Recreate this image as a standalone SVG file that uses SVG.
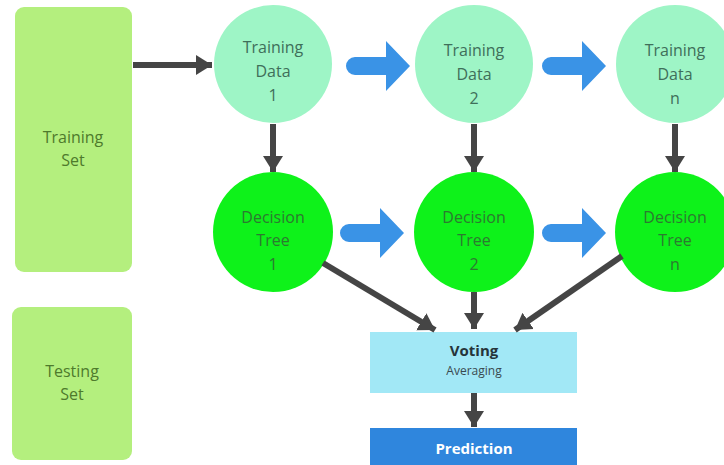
<svg xmlns="http://www.w3.org/2000/svg" width="724" height="465" viewBox="0 0 724 465">
<style>
.set{fill:#b4ef7e}
.td{fill:#9ef5c6}
.dt{fill:#0ef21a}
.t{font-family:"Open Sans","Liberation Sans",sans-serif;font-size:16px;text-anchor:middle}
.tdt{fill:#3f6f5a}
.dtt{fill:#2c7a30}
.sett{fill:#4e7a2c}
.conn{stroke:#454545;stroke-width:6;fill:none}
.blue{fill:#3a93e6}
</style>
<defs>
<marker id="ah" markerUnits="userSpaceOnUse" markerWidth="22" markerHeight="24" refX="16" refY="12" orient="auto">
<path d="M0,2 L16,12 L0,22 Z" fill="#454545"/>
</marker>
<path id="barrow" d="M7,-9 L38,-9 L38,-25 L62,0 L38,25 L38,9 L7,9 A9,9 0 0 1 7,-9 Z"/>
</defs>
<g id="training-set"><rect class="set" x="15" y="7" width="117" height="265" rx="9"/><text class="t sett" x="73" y="143">Training</text><text class="t sett" x="73" y="166">Set</text></g>
<g id="testing-set"><rect class="set" x="12" y="307" width="120" height="153" rx="9"/><text class="t sett" x="72" y="377">Testing</text><text class="t sett" x="72" y="400">Set</text></g>
<g id="td1"><circle class="td" cx="273" cy="64" r="59"/><text class="t tdt" x="273" y="53">Training</text><text class="t tdt" x="273" y="77">Data</text><text class="t tdt" x="273" y="101">1</text></g>
<g id="td2"><circle class="td" cx="474" cy="64" r="59"/><text class="t tdt" x="474" y="56">Training</text><text class="t tdt" x="474" y="80">Data</text><text class="t tdt" x="474" y="104">2</text></g>
<g id="tdn"><circle class="td" cx="675" cy="64" r="59"/><text class="t tdt" x="675" y="56">Training</text><text class="t tdt" x="675" y="80">Data</text><text class="t tdt" x="675" y="104">n</text></g>
<g id="dt1"><circle class="dt" cx="273" cy="232" r="60"/><text class="t dtt" x="273" y="223">Decision</text><text class="t dtt" x="273" y="246">Tree</text><text class="t dtt" x="273" y="270">1</text></g>
<g id="dt2"><circle class="dt" cx="474" cy="232" r="60"/><text class="t dtt" x="474" y="223">Decision</text><text class="t dtt" x="474" y="246">Tree</text><text class="t dtt" x="474" y="270">2</text></g>
<g id="dtn"><circle class="dt" cx="675" cy="232" r="60"/><text class="t dtt" x="675" y="223">Decision</text><text class="t dtt" x="675" y="246">Tree</text><text class="t dtt" x="675" y="270">n</text></g>
<g id="voting"><rect x="370" y="332" width="207" height="61" fill="#a2e8f6"/><text x="474" y="356" font-family="'Open Sans','Liberation Sans',sans-serif" font-size="15" font-weight="bold" fill="#26343a" text-anchor="middle">Voting</text><text x="474" y="375" font-family="'Open Sans','Liberation Sans',sans-serif" font-size="12" fill="#3a4a50" text-anchor="middle">Averaging</text></g>
<g id="prediction"><rect x="370" y="428" width="207" height="40" fill="#2f86dd"/><text x="474" y="454" font-family="'Open Sans','Liberation Sans',sans-serif" font-size="15" font-weight="bold" fill="#ffffff" text-anchor="middle">Prediction</text></g>
<g id="connectors">
<line class="conn" x1="133" y1="65" x2="212" y2="65" marker-end="url(#ah)"/>
<line class="conn" x1="273" y1="124" x2="273" y2="172" marker-end="url(#ah)"/>
<line class="conn" x1="474" y1="124" x2="474" y2="172" marker-end="url(#ah)"/>
<line class="conn" x1="675" y1="124" x2="675" y2="172" marker-end="url(#ah)"/>
<line class="conn" x1="323" y1="263" x2="435" y2="330" marker-end="url(#ah)"/>
<line class="conn" x1="474" y1="292" x2="474" y2="329" marker-end="url(#ah)"/>
<line class="conn" x1="622" y1="256" x2="515" y2="330" marker-end="url(#ah)"/>
<line class="conn" x1="474" y1="393" x2="474" y2="427" marker-end="url(#ah)"/>
<use href="#barrow" class="blue" x="348" y="66"/>
<use href="#barrow" class="blue" x="544" y="66"/>
<use href="#barrow" class="blue" x="342" y="233"/>
<use href="#barrow" class="blue" x="544" y="233"/>
</g>
</svg>
